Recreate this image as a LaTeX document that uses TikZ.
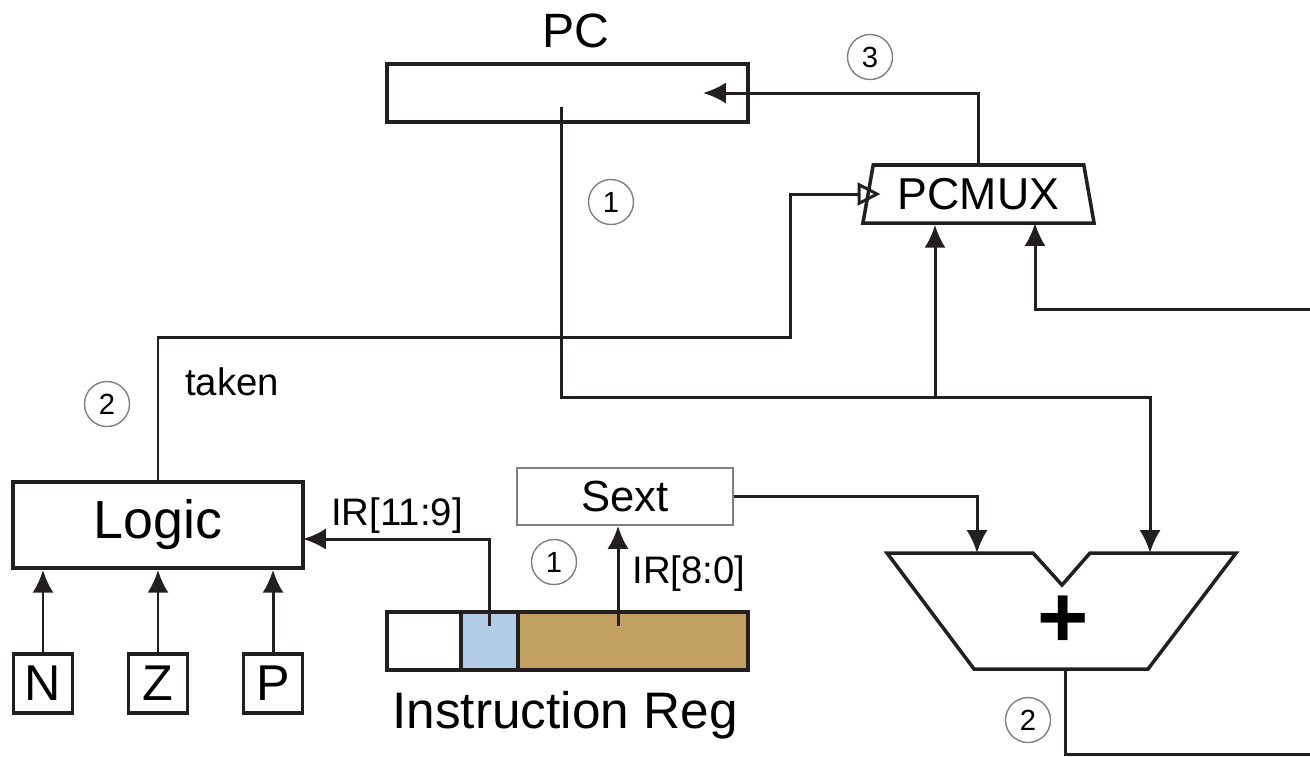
\documentclass[tikz,border=0pt]{standalone}
\usepackage{fontspec}
\setmainfont{Liberation Sans}
\usepackage{tikz}
\usetikzlibrary{arrows.meta,shapes.geometric}

\definecolor{ink}{HTML}{231F20}
\definecolor{irblue}{HTML}{B3CDE8}
\definecolor{irtan}{HTML}{C1A062}

\begin{document}
\begin{tikzpicture}
         [x=0.01cm,y=-0.01cm,
          box/.style={draw=ink,line width=1pt,inner sep=0pt},
          flag/.style={box,minimum size=0.59cm,font=\fontsize{14.3}{14.3}\selectfont},
          cell/.style={box,minimum height=0.58cm},
          wire/.style={draw=ink,line width=0.85pt},
          sig/.style={wire,-{Latex[length=6.5pt,width=6pt]}},
          ctl/.style={wire,-{Triangle[open,length=6.5pt,width=6.5pt,line width=0.85pt]}},
          stepno/.style={circle,draw=gray,line width=0.4pt,minimum size=0.45cm,
                         inner sep=0pt,font=\fontsize{8.3}{8.3}\selectfont},
          lbl/.style={anchor=base,font=\fontsize{10.9}{10.9}\selectfont}]
         \useasboundingbox (0,0) rectangle (1310,756);

         % registers and boxes
         \node (pclabel) [anchor=base,font=\fontsize{13.7}{13.7}\selectfont] at (576,47) {PC};
         \node (pc) [box,minimum width=3.61cm,minimum height=0.58cm] at (567.5,93) {};
         \node (pcmux) [box,trapezium,trapezium left angle=72,trapezium right angle=72,
                        trapezium stretches body,minimum width=2.31cm,minimum height=0.58cm,
                        font=\fontsize{12.7}{12.7}\selectfont] at (978.5,194) {PCMUX};
         \node (logic) [box,minimum width=2.9cm,minimum height=0.86cm,
                        font=\fontsize{15.3}{15.3}\selectfont] at (158,525) {Logic};
         \node (n) [flag] at (43,683.5) {N};
         \node (z) [flag] at (158,683.5) {Z};
         \node (p) [flag] at (273,683.5) {P};
         \node (sext) [draw=gray,line width=0.5pt,minimum width=2.16cm,minimum height=0.57cm,
                       font=\fontsize{12.4}{12.4}\selectfont] at (625,496.5) {Sext};
         \node (irhi) [cell,minimum width=0.74cm] at (424,641) {};
         \node (irnzp) [cell,fill=irblue,minimum width=0.57cm] at (489.5,641) {};
         \node (iroff) [cell,fill=irtan,minimum width=2.30cm] at (633,641) {};
         \node (irlabel) [anchor=base,font=\fontsize{14.6}{14.6}\selectfont] at (565,728) {Instruction Reg};

         % adder
         \draw[box,line join=miter] (887,553) -- (1033,553) -- (1062,585) -- (1090,553)
              -- (1236,553) -- (1148,669) -- (974,669) -- cycle;
         \node (adder) [font=\fontsize{25}{25}\bfseries] at (1063,622) {+};

         % connection points
         \coordinate (pcin) at (703,93);
         \coordinate (pcout) at (561,107);
         \coordinate (bus) at (935,397);
         \coordinate (tk) at (790,337);
         \coordinate (muxin2) at (1035,223);
         \coordinate (fromright) at (1310,309);
         \coordinate (nzpbits) at (489,626);
         \coordinate (logicin) at (303,539);
         \coordinate (offbits) at (618,626);
         \coordinate (addin1) at (977,553);
         \coordinate (addin2) at (1150,553);
         \coordinate (addout) at (1065,669);
         \coordinate (toright) at (1310,754);

         % wires
         \draw[sig] (pcmux.north) |- (pcin);
         \draw[wire] (pcout) |- (bus) -| (1150,500);
         \draw[sig] (1150,500) -- (addin2);
         \draw[sig] (bus) -- (bus |- pcmux.south);
         \draw[sig] (fromright) -| (muxin2);
         \draw[ctl] (logic.north) |- (tk) |- ([xshift=4pt]pcmux.west);
         \draw[sig] (nzpbits) |- (logicin);
         \draw[sig] (offbits) -- (offbits |- sext.south);
         \draw[sig] (sext.east) -| (addin1);
         \draw[wire] (addout) |- (toright);
         \draw[sig] (n) -- (n |- logic.south);
         \draw[sig] (z) -- (z |- logic.south);
         \draw[sig] (p) -- (p |- logic.south);

         % labels
         \node (taken) [lbl] at (232,395) {taken};
         \node (ir119) [lbl] at (397,525) {IR[11:9]};
         \node (ir80) [lbl] at (689,583) {IR[8:0]};
         \node (s1a) [stepno] at (611,202) {1};
         \node (s1b) [stepno] at (554,562) {1};
         \node (s2a) [stepno] at (107,404) {2};
         \node (s2b) [stepno] at (1028,720) {2};
         \node (s3) [stepno] at (870,57) {3};
      \end{tikzpicture}
\end{document}
